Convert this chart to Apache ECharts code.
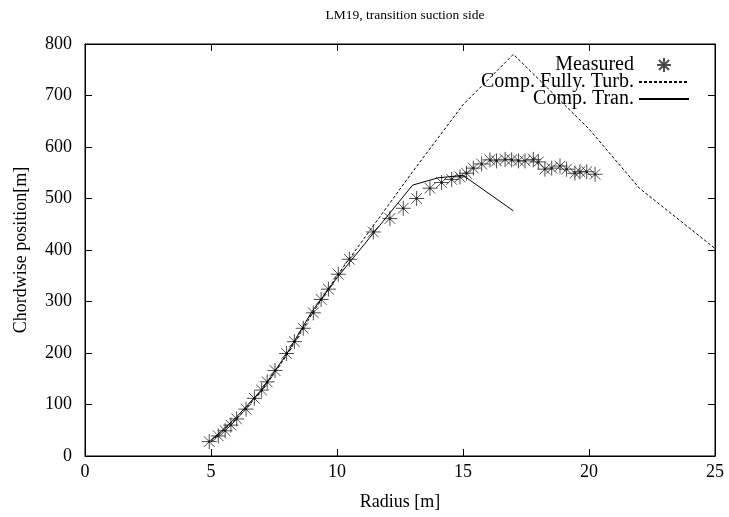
<!DOCTYPE html>
<html>
<head>
<meta charset="utf-8">
<script src="https://cdn.jsdelivr.net/npm/echarts@6/dist/echarts.min.js"></script>
<style>html,body{margin:0;padding:0;background:#fff;}#c{width:729px;height:517px;}</style>
</head>
<body>
<div id="c"></div>
<script>
var measuredRadius = [4.93,5.29,5.56,5.79,6.02,6.39,6.72,7.01,7.23,7.54,8.0,8.31,8.66,9.06,9.37,9.66,10.05,10.49,11.44,12.1,12.63,13.16,13.69,14.15,14.55,14.88,15.14,15.41,15.74,16.07,16.33,16.67,16.93,17.2,17.46,17.79,17.99,18.25,18.52,18.85,19.11,19.44,19.64,19.91,20.24];
var measuredPos = [28,39,49,60,72,91,112,128,144,166,199,222,248,278,304,324,353,382,435,461,481,500,520,531,537,542,549,559,567,575,573,576,575,573,573,576,571,557,559,563,557,549,552,552,547];
var turbRadius = [5,6,7,8,9,10,13,15,17,20,22,25];
var turbPos = [28,72,125,195,275,350,552,682,780,635,520,403];
var tranRadius = [5,6,7,8,9,10,13,14,15,17];
var tranPos = [30,75,128,198,280,346,526,540,545,476];
var xTicks = [0,5,10,15,20,25];
var yTicks = [0,100,200,300,400,500,600,700,800];

function zip(a,b){return a.map(function(v,i){return [v,b[i]];});}
var font = 'Liberation Serif';
var star = 'path://M7,0L7,14M0,7L14,7M2,2L12,12M12,2L2,12M6.3,6.3L7.7,6.3L7.7,7.7L6.3,7.7Z';
function axis(kind, pos, extra){
  var o = {
    type:'value', position:pos,
    min: 0, max: kind==='x'?25:800, interval: kind==='x'?5:100,
    axisLine:{show:true,onZero:false,lineStyle:{color:'#000',width:1}},
    axisTick:{show:true,inside:true,length:7,lineStyle:{color:'#000',width:1}},
    splitLine:{show:false},
    axisLabel:{show:false}
  };
  for (var k in extra) o[k]=extra[k];
  return o;
}
var chart = echarts.init(document.getElementById('c'));
chart.setOption({
  animation:false,
  backgroundColor:'#fff',
  title:{text:'LM19, transition suction side',left:400,top:3,textAlign:'center',
    textStyle:{fontFamily:font,fontSize:13.5,fontWeight:'normal',color:'#000'}},
  grid:{left:85,right:14,top:44,bottom:61,containLabel:false,show:true,borderColor:'#000',borderWidth:1},
  legend:{
    orient:'vertical',right:34,top:50,align:'right',itemGap:-3,itemWidth:50,itemHeight:14,
    textStyle:{fontFamily:font,fontSize:20,color:'#000'},
    data:['Measured','Comp. Fully. Turb.','Comp. Tran.']
  },
  xAxis:[
    axis('x','bottom',{name:'Radius [m]',nameLocation:'middle',nameGap:37,
      nameTextStyle:{fontFamily:font,fontSize:18,color:'#000'},
      axisLabel:{show:true,fontFamily:font,fontSize:18,color:'#000',margin:7,
        formatter:function(v){return xTicks.indexOf(v)>=0?String(v):'';}}}),
    axis('x','top',{})
  ],
  yAxis:[
    axis('y','left',{name:'Chordwise position[m]',nameLocation:'middle',nameGap:55,nameRotate:90,
      nameTextStyle:{fontFamily:font,fontSize:18,color:'#000'},
      axisLabel:{show:true,fontFamily:font,fontSize:18,color:'#000',margin:13,
        formatter:function(v){return yTicks.indexOf(v)>=0?String(v):'';}}}),
    axis('y','right',{})
  ],
  series:[
    {name:'Measured',type:'scatter',data:zip(measuredRadius,measuredPos),
      symbol:star,symbolSize:15,
      itemStyle:{color:'#000',borderColor:'#222',borderWidth:1}},
    {name:'Comp. Fully. Turb.',type:'line',data:zip(turbRadius,turbPos),showSymbol:false,symbol:'none',
      lineStyle:{color:'#000',width:1,type:[3,2]},itemStyle:{color:'rgba(0,0,0,0)',borderColor:'rgba(0,0,0,0)',borderWidth:0}},
    {name:'Comp. Tran.',type:'line',data:zip(tranRadius,tranPos),showSymbol:false,symbol:'none',
      lineStyle:{color:'#000',width:1},itemStyle:{color:'rgba(0,0,0,0)',borderColor:'rgba(0,0,0,0)',borderWidth:0}}
  ]
});
</script>
</body>
</html>
